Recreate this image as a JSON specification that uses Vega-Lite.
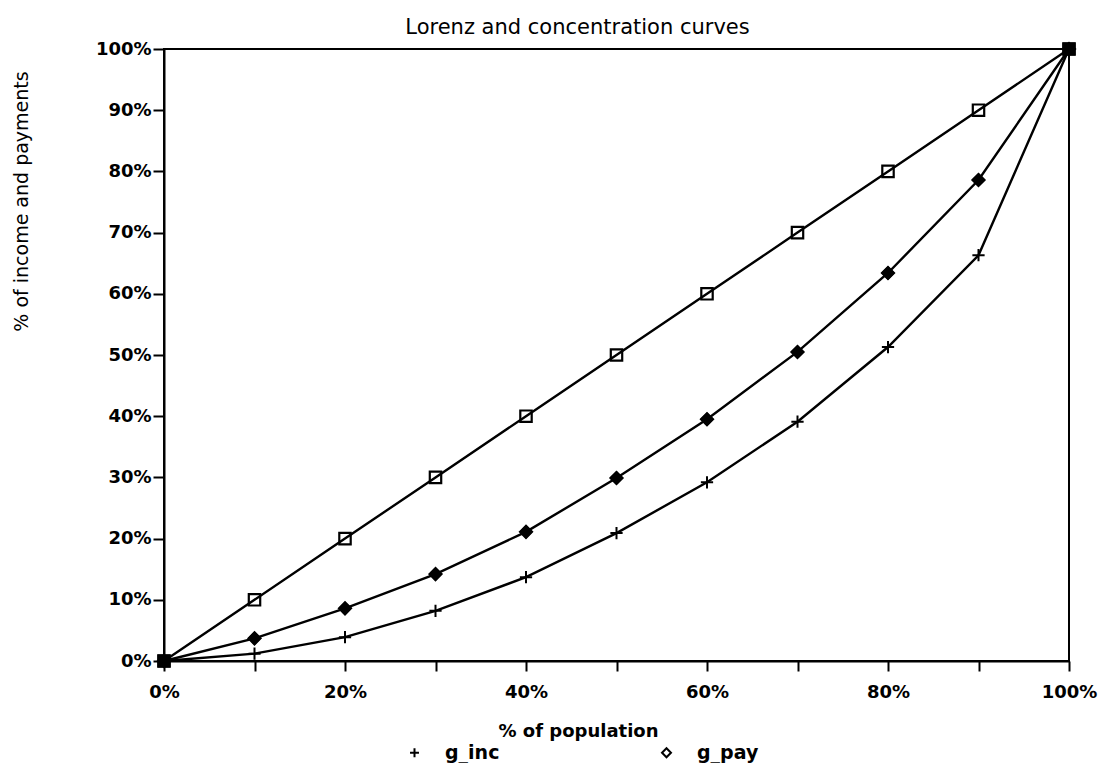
{
  "$schema": "https://vega.github.io/schema/vega-lite/v6.json",
  "width": 905,
  "height": 612,
  "autosize": {"type": "none"},
  "padding": {"left": 164, "top": 49, "right": 32, "bottom": 102},
  "background": "white",
  "title": {
    "text": "Lorenz and concentration curves",
    "font": "DejaVu Sans",
    "fontSize": 21,
    "fontWeight": "normal",
    "color": "black",
    "anchor": "middle",
    "dx": -39,
    "offset": 1
  },
  "config": {
    "view": {"stroke": "black", "strokeWidth": 2},
    "axis": {
      "grid": false,
      "domainColor": "black",
      "domainWidth": 2,
      "tickColor": "black",
      "tickWidth": 2,
      "labelColor": "black",
      "labelFont": "DejaVu Sans",
      "labelFontSize": 18,
      "labelFontWeight": "bold",
      "titleColor": "black",
      "titleFont": "DejaVu Sans",
      "titleFontSize": 18,
      "titleFontWeight": "bold"
    },
    "legend": {
      "labelFont": "DejaVu Sans",
      "labelFontSize": 19,
      "labelFontWeight": "bold",
      "labelColor": "black"
    }
  },
  "data": {
    "values": [
      {"pop": 0, "share": 0, "series": "equality"},
      {"pop": 10, "share": 10, "series": "equality"},
      {"pop": 20, "share": 20, "series": "equality"},
      {"pop": 30, "share": 30, "series": "equality"},
      {"pop": 40, "share": 40, "series": "equality"},
      {"pop": 50, "share": 50, "series": "equality"},
      {"pop": 60, "share": 60, "series": "equality"},
      {"pop": 70, "share": 70, "series": "equality"},
      {"pop": 80, "share": 80, "series": "equality"},
      {"pop": 90, "share": 90, "series": "equality"},
      {"pop": 100, "share": 100, "series": "equality"},
      {"pop": 0, "share": 0, "series": "g_pay"},
      {"pop": 10, "share": 3.7, "series": "g_pay"},
      {"pop": 20, "share": 8.6, "series": "g_pay"},
      {"pop": 30, "share": 14.2, "series": "g_pay"},
      {"pop": 40, "share": 21.1, "series": "g_pay"},
      {"pop": 50, "share": 29.9, "series": "g_pay"},
      {"pop": 60, "share": 39.5, "series": "g_pay"},
      {"pop": 70, "share": 50.5, "series": "g_pay"},
      {"pop": 80, "share": 63.4, "series": "g_pay"},
      {"pop": 90, "share": 78.6, "series": "g_pay"},
      {"pop": 100, "share": 100, "series": "g_pay"},
      {"pop": 0, "share": 0, "series": "g_inc"},
      {"pop": 10, "share": 1.2, "series": "g_inc"},
      {"pop": 20, "share": 3.9, "series": "g_inc"},
      {"pop": 30, "share": 8.2, "series": "g_inc"},
      {"pop": 40, "share": 13.7, "series": "g_inc"},
      {"pop": 50, "share": 20.9, "series": "g_inc"},
      {"pop": 60, "share": 29.2, "series": "g_inc"},
      {"pop": 70, "share": 39.1, "series": "g_inc"},
      {"pop": 80, "share": 51.3, "series": "g_inc"},
      {"pop": 90, "share": 66.3, "series": "g_inc"},
      {"pop": 100, "share": 100, "series": "g_inc"}
    ]
  },
  "encoding": {
    "x": {
      "field": "pop",
      "type": "quantitative",
      "scale": {"domain": [0, 100], "nice": false},
      "axis": {
        "title": "% of population",
        "values": [0, 10, 20, 30, 40, 50, 60, 70, 80, 90, 100],
        "labelExpr": "datum.value % 20 === 0 ? datum.value + '%' : ''",
        "labelOverlap": false,
        "labelFlush": false,
        "tickSize": 10,
        "labelPadding": 12,
        "titleX": 414,
        "titleY": 75,
        "titleBaseline": "alphabetic"
      }
    },
    "y": {
      "field": "share",
      "type": "quantitative",
      "scale": {"domain": [0, 100], "nice": false},
      "axis": {
        "title": "% of income and payments",
        "values": [0, 10, 20, 30, 40, 50, 60, 70, 80, 90, 100],
        "labelExpr": "datum.value + '%'",
        "labelOverlap": false,
        "labelFlush": false,
        "tickSize": 11,
        "labelPadding": 2,
        "titleX": -143,
        "titleY": 152,
        "titleAngle": -90,
        "titleBaseline": "middle",
        "titleFontWeight": "normal",
        "titleFontSize": 19
      }
    }
  },
  "layer": [
    {
      "mark": {"type": "line", "color": "black", "strokeWidth": 2.4},
      "encoding": {"detail": {"field": "series", "type": "nominal"}}
    },
    {
      "transform": [{"filter": "datum.series === 'equality'"}],
      "mark": {"type": "point", "shape": "square", "filled": false, "stroke": "black", "strokeWidth": 2.2, "size": 130, "opacity": 1}
    },
    {
      "transform": [{"filter": "datum.series === 'equality' && (datum.pop === 0 || datum.pop === 100)"}],
      "mark": {"type": "point", "shape": "square", "filled": true, "color": "black", "size": 170, "opacity": 1}
    },
    {
      "transform": [{"filter": "datum.series === 'g_pay'"}],
      "mark": {"type": "point", "shape": "diamond", "filled": true, "color": "black", "size": 190, "opacity": 1}
    },
    {
      "transform": [{"filter": "datum.series !== 'equality'"}],
      "mark": {"type": "point", "filled": false, "stroke": "black", "strokeWidth": 2, "size": 150, "opacity": 1},
      "encoding": {
        "shape": {
          "field": "series",
          "type": "nominal",
          "scale": {"domain": ["g_inc", "g_pay"], "range": ["M-1,0H1M0,-1V1", "diamond"]},
          "legend": {
            "title": null,
            "orient": "none",
            "legendX": 241,
            "legendY": 694,
            "direction": "horizontal",
            "columnPadding": 157,
            "labelOffset": 21,
            "symbolSize": 80,
            "symbolStrokeWidth": 2,
            "symbolStrokeColor": "black"
          }
        }
      }
    }
  ]
}
